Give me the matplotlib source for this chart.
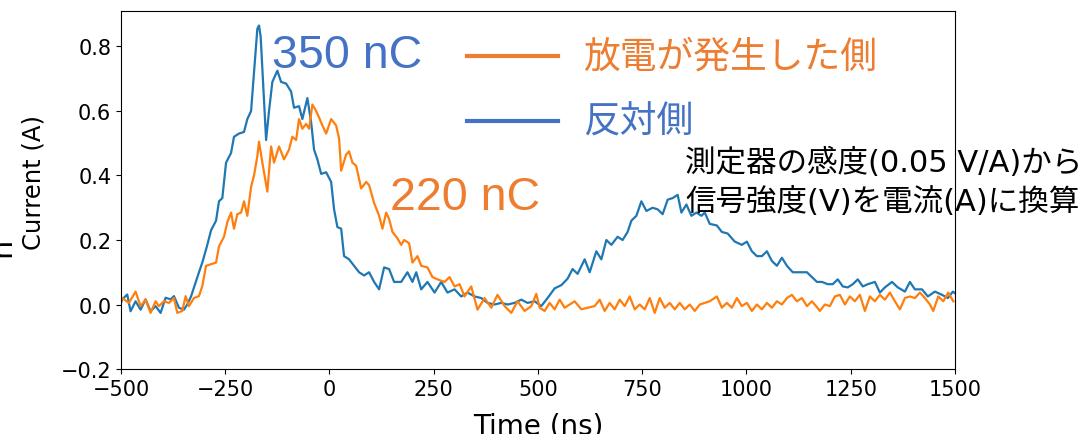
import matplotlib
matplotlib.use("Agg")
import matplotlib.pyplot as plt
from matplotlib.lines import Line2D

# 反対側 (blue trace)
t_opp = [-500, -497, -485, -477, -465, -453, -441, -429, -417, -405, -393, -381, -373, -361,
         -349, -341, -332, -313, -305, -294, -284, -272, -265, -257, -248, -236, -229, -217,
         -205, -197, -188, -181, -173, -169, -165, -161, -152, -145, -137, -125, -116, -104,
         -92, -85, -73, -65, -53, -44, -37, -29, -20, -8, 4, 11, 19, 28, 35, 47, 59, 71, 83,
         95, 107, 119, 131, 143, 155, 172, 187, 199, 208, 220, 235, 252, 268, 283, 300, 316,
         331, 348, 364, 379, 396, 412, 427, 444, 460, 475, 492, 508, 523, 540, 556, 571, 583,
         595, 612, 624, 640, 652, 664, 676, 691, 703, 715, 724, 736, 748, 760, 775, 787, 799,
         811, 823, 835, 844, 856, 868, 880, 892, 900, 912, 929, 941, 955, 972, 989, 1001,
         1013, 1025, 1037, 1049, 1061, 1073, 1085, 1097, 1111, 1128, 1145, 1157, 1169, 1181,
         1195, 1207, 1219, 1231, 1243, 1255, 1267, 1279, 1291, 1308, 1320, 1332, 1349, 1363,
         1380, 1392, 1404, 1421, 1435, 1452, 1469, 1483, 1495, 1500]
i_opp = [0.005, 0.016, 0.031, -0.021, 0.010, -0.016, 0.016, -0.021, -0.005, -0.026, 0.021,
         0.016, 0.026, -0.010, -0.016, 0.000, 0.025, 0.10, 0.13, 0.18, 0.23, 0.26, 0.32, 0.33,
         0.44, 0.47, 0.52, 0.53, 0.535, 0.575, 0.60, 0.72, 0.855, 0.865, 0.83, 0.73, 0.51,
         0.60, 0.69, 0.725, 0.69, 0.685, 0.66, 0.61, 0.615, 0.575, 0.64, 0.565, 0.48, 0.45,
         0.405, 0.41, 0.38, 0.295, 0.24, 0.235, 0.15, 0.14, 0.12, 0.10, 0.09, 0.10, 0.07,
         0.047, 0.115, 0.11, 0.07, 0.07, 0.10, 0.07, 0.10, 0.047, 0.07, 0.037, 0.07, 0.037,
         0.047, 0.025, 0.037, 0.025, 0.02, 0.005, 0.0, 0.005, 0.0, 0.005, 0.015, 0.005, 0.01,
         -0.005, 0.02, 0.05, 0.06, 0.08, 0.11, 0.095, 0.14, 0.10, 0.165, 0.14, 0.20, 0.185,
         0.21, 0.20, 0.225, 0.26, 0.275, 0.32, 0.29, 0.30, 0.295, 0.28, 0.325, 0.33, 0.34,
         0.285, 0.31, 0.275, 0.285, 0.275, 0.285, 0.25, 0.245, 0.225, 0.22, 0.195, 0.185,
         0.195, 0.165, 0.15, 0.15, 0.165, 0.135, 0.12, 0.145, 0.12, 0.10, 0.10, 0.10, 0.085,
         0.07, 0.07, 0.063, 0.063, 0.078, 0.056, 0.053, 0.063, 0.078, 0.056, 0.063, 0.07,
         0.037, 0.053, 0.07, 0.053, 0.04, 0.07, 0.047, 0.047, 0.025, 0.04, 0.03, 0.02, 0.04,
         0.035]

# 放電が発生した側 (orange trace)
t_dis = [-500, -497, -481, -465, -453, -441, -429, -417, -409, -397, -385, -373, -365, -353,
         -345, -337, -325, -313, -305, -296, -284, -272, -265, -253, -245, -236, -229, -221,
         -212, -205, -197, -188, -181, -173, -169, -161, -149, -140, -133, -121, -109, -97,
         -89, -80, -73, -65, -56, -49, -41, -32, -25, -17, -8, 4, 16, 23, 28, 40, 47, 55, 64,
         76, 88, 95, 107, 119, 127, 136, 143, 151, 163, 172, 179, 191, 199, 211, 220, 235,
         247, 259, 276, 288, 300, 312, 324, 340, 355, 372, 388, 403, 420, 436, 451, 468, 484,
         496, 504, 516, 528, 540, 552, 564, 576, 588, 604, 619, 636, 648, 660, 672, 684, 696,
         708, 720, 732, 744, 756, 768, 780, 792, 804, 816, 828, 840, 852, 864, 876, 888, 900,
         912, 929, 941, 953, 965, 977, 989, 1001, 1013, 1025, 1037, 1049, 1061, 1073, 1085,
         1097, 1109, 1121, 1133, 1145, 1157, 1167, 1176, 1188, 1200, 1212, 1224, 1236, 1248,
         1260, 1272, 1284, 1296, 1308, 1320, 1332, 1344, 1356, 1368, 1380, 1392, 1404, 1416,
         1428, 1440, 1448, 1460, 1472, 1484, 1496]
i_dis = [0.01, 0.02, 0.005, 0.04, -0.005, 0.015, -0.026, 0.01, -0.005, 0.01, 0.005, 0.02,
         -0.026, -0.02, 0.026, -0.005, 0.02, 0.026, 0.057, 0.12, 0.125, 0.13, 0.18, 0.21,
         0.255, 0.285, 0.235, 0.28, 0.285, 0.32, 0.275, 0.365, 0.40, 0.46, 0.505, 0.44, 0.35,
         0.49, 0.44, 0.49, 0.45, 0.48, 0.52, 0.51, 0.575, 0.545, 0.56, 0.545, 0.62, 0.60, 0.58,
         0.555, 0.53, 0.575, 0.555, 0.515, 0.415, 0.465, 0.475, 0.44, 0.43, 0.36, 0.38, 0.37,
         0.315, 0.275, 0.235, 0.285, 0.265, 0.225, 0.205, 0.185, 0.20, 0.19, 0.13, 0.15, 0.12,
         0.115, 0.085, 0.078, 0.07, 0.085, 0.056, 0.063, 0.025, 0.056, -0.016, 0.02, -0.01,
         0.03, -0.005, -0.026, 0.01, -0.02, -0.005, 0.033, -0.01, -0.02, 0.005, -0.015, 0.015,
         -0.01, 0.0, 0.01, -0.015, -0.01, -0.005, 0.015, -0.02, 0.005, -0.015, 0.015, -0.005,
         0.025, -0.015, 0.0, -0.015, 0.02, -0.026, 0.02, -0.01, 0.005, -0.015, 0.005, -0.015,
         0.0, -0.02, 0.0, 0.005, 0.01, 0.025, -0.01, 0.005, -0.01, 0.02, -0.005, 0.005, -0.02,
         0.0, -0.015, 0.005, -0.01, 0.01, 0.0, 0.02, 0.03, 0.01, 0.02, -0.005, 0.01, -0.005,
         -0.02, 0.0, -0.005, 0.025, 0.03, 0.0, 0.025, 0.01, 0.03, -0.02, 0.025, 0.01, 0.03,
         0.015, 0.037, 0.01, -0.015, 0.02, 0.025, 0.02, 0.037, 0.02, 0.0, -0.02, 0.025, 0.01,
         0.037, 0.01]

charge_opp = "350 nC"
charge_dis = "220 nC"
legend_labels = ["放電が発生した側", "反対側"]
note_lines = ["測定器の感度(0.05 V/A)から", "信号強度(V)を電流(A)に換算"]

office_orange = "#ED7D31"
office_blue = "#4472C4"
jp = ["Noto Sans CJK JP", "DejaVu Sans"]
note_font = ["DejaVu Sans", "Noto Sans CJK JP"]

fig = plt.figure(figsize=(10.89, 4.35), dpi=100)
ax = fig.add_axes([0.1111, 0.1494, 0.7658, 0.823])

ax.plot(t_opp, i_opp, color="C0", lw=1.6)
ax.plot(t_dis, i_dis, color="C1", lw=1.6)

ax.set_xlim(-500, 1500)
ax.set_ylim(-0.2, 0.91)
ax.set_yticks([-0.2, 0.0, 0.2, 0.4, 0.6, 0.8])
ax.tick_params(labelsize=15)
ax.set_xlabel("Time (ns)", fontsize=20, labelpad=9)
ax.set_ylabel("Current (A)", fontsize=17.5)
ax.yaxis.set_label_coords(-0.09, 0.525)

# charge annotations
fig.text(0.2498, 1 - 68 / 435, charge_opp, color=office_blue, fontsize=33.5,
         family="Liberation Sans", va="baseline")
fig.text(0.3581, 1 - 210 / 435, charge_dis, color=office_orange, fontsize=33.5,
         family="Liberation Sans", va="baseline")

# hand-made legend
for y, c, lab in [(1 - 57 / 435, office_orange, legend_labels[0]),
                  (1 - 122 / 435, office_blue, legend_labels[1])]:
    fig.add_artist(Line2D([0.4288, 0.5124], [y, y], color=c, lw=3,
                          transform=fig.transFigure))
    fig.text(0.5354, y, lab, color=c, fontsize=26.5, family=jp, va="center")

# note on conversion
fig.text(0.629, 1 - 163 / 435, note_lines[0], fontsize=22, family=note_font, va="center")
fig.text(0.629, 1 - 202 / 435, note_lines[1], fontsize=22, family=note_font, va="center")

# leftover label fragment at the edge
fig.text(-0.012, 1 - 247 / 435, "n", rotation=90, fontsize=22, va="center")

fig.savefig("out.png", dpi=100)
